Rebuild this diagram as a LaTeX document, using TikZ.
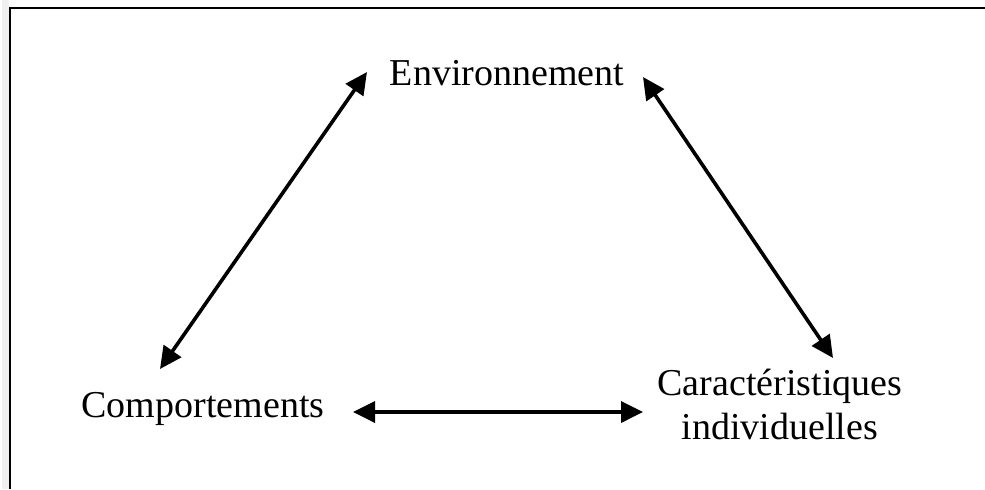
\documentclass[tikz,border=0pt]{standalone}
\usepackage{fontspec}
\setmainfont{Liberation Serif}
\usetikzlibrary{arrows.meta}
\begin{document}
\begin{tikzpicture}[x=0.5pt,y=-0.5pt,
  lbl/.style={inner sep=0pt, font=\fontsize{19pt}{22pt}\selectfont, anchor=base},
  arr/.style={line width=1.8pt, {Triangle[length=11pt,width=10.5pt]}-{Triangle[length=11pt,width=10.5pt]}},
  frame/.style={line width=1.1pt, black}]
\useasboundingbox (0,0) rectangle (985,489);
\fill[black!6] (2,0) rectangle (9,489);
\draw[frame] (985,8) -- (10,8) -- (10,489);
\node[lbl] (env) at (507,85) {Environnement};
\node[lbl] (comp) at (203,417) {Comportements};
\node[lbl, align=center] (carac) at (780,439) {Caractéristiques\\individuelles};
\draw[arr] ([xshift=-21.5pt,yshift=24pt]comp.base) -- ([xshift=-70pt,yshift=6.5pt]env.base);
\draw[arr] ([xshift=68pt,yshift=4pt]env.base) -- ([xshift=26.5pt,yshift=40.5pt]carac.base);
\draw[arr] ([xshift=75pt,yshift=2.5pt]comp.base) -- ([xshift=-68.5pt,yshift=13.5pt]carac.base);
\end{tikzpicture}
\end{document}
